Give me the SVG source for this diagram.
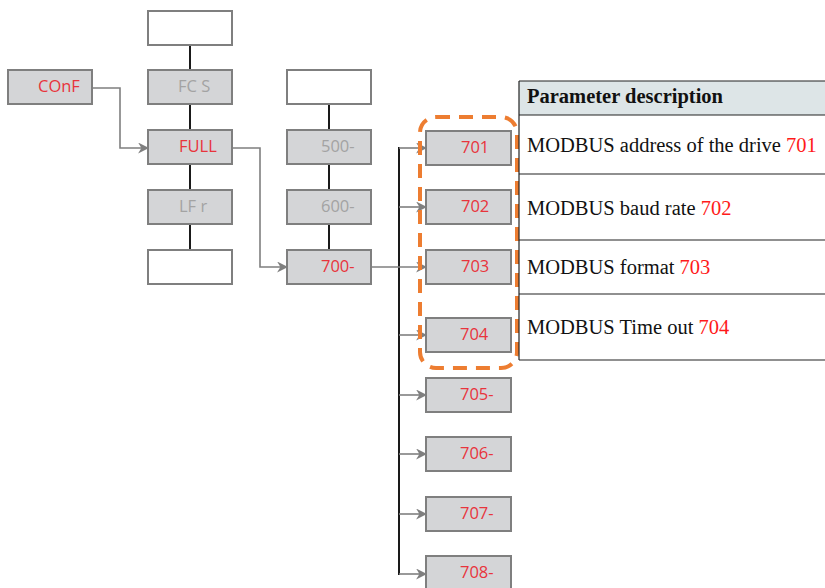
<svg xmlns="http://www.w3.org/2000/svg" width="825" height="588" viewBox="0 0 825 588">
<defs>
<marker id="arr" viewBox="0 0 10 10" refX="9" refY="5" markerWidth="11" markerHeight="11" markerUnits="userSpaceOnUse" orient="auto">
<path d="M0,0 L10,5 L0,10 L3,5 z" fill="#7f7f7f"/>
</marker>
<style>
.box{fill:#d4d5d7;stroke:#7f7f7f;stroke-width:2}
.wbox{fill:#ffffff;stroke:#7f7f7f;stroke-width:2}
.t{font-family:"Open Sans","Liberation Sans",sans-serif;font-size:16.5px}
.red{fill:#e8343c}
.gray{fill:#a3a3a3}
.arrow{fill:none;stroke:#7f7f7f;stroke-width:1.6;marker-end:url(#arr)}
.trunk{fill:none;stroke:#1a1a1a;stroke-width:2}
.tt{font-family:"Liberation Serif","Times New Roman",serif;font-size:20.5px;fill:#111}
.tr{fill:#ff1a1a}
.tl{stroke:#222;stroke-width:1.2}
</style>
</defs>
<g id="connectors">
<line class="trunk" x1="190" y1="45" x2="190" y2="250"/>
<line class="trunk" x1="329" y1="104" x2="329" y2="250"/>
<line class="trunk" x1="399" y1="147" x2="399" y2="575"/>
<path class="arrow" d="M92,88 H120 V148 H148"/>
<path class="arrow" d="M232,148 H260 V267 H287"/>
<path class="arrow" d="M371,267 H426"/>
<path class="arrow" d="M399,148 H426"/>
<path class="arrow" d="M399,207 H426"/>
<path class="arrow" d="M399,335 H426"/>
<path class="arrow" d="M399,395 H426"/>
<path class="arrow" d="M399,454 H426"/>
<path class="arrow" d="M399,514 H426"/>
<path class="arrow" d="M399,574 H426"/>
</g>
<g id="n-top"><rect class="wbox" x="148" y="11" width="84" height="34"/></g>
<g id="n-conf"><rect class="box" x="8" y="70" width="84" height="34"/><text class="t red" x="38" y="92">COnF</text></g>
<g id="n-fcs"><rect class="box" x="148" y="70" width="84" height="34"/><text class="t gray" x="178" y="92">FC S</text></g>
<g id="n-full"><rect class="box" x="148" y="130" width="84" height="34"/><text class="t red" x="179" y="152">FULL</text></g>
<g id="n-lfr"><rect class="box" x="148" y="190" width="84" height="34"/><text class="t gray" x="179" y="212">LF r</text></g>
<g id="n-bottom"><rect class="wbox" x="148" y="250" width="84" height="34"/></g>
<g id="n-top2"><rect class="wbox" x="287" y="70" width="84" height="34"/></g>
<g id="n-500"><rect class="box" x="287" y="130" width="84" height="34"/><text class="t gray" x="321" y="152">500-</text></g>
<g id="n-600"><rect class="box" x="287" y="190" width="84" height="34"/><text class="t gray" x="321" y="212">600-</text></g>
<g id="n-700"><rect class="box" x="287" y="250" width="84" height="34"/><text class="t red" x="321" y="272">700-</text></g>
<g id="n-701"><rect class="box" x="426" y="131" width="85" height="34"/><text class="t red" x="461" y="153">701</text></g>
<g id="n-702"><rect class="box" x="426" y="190" width="85" height="34"/><text class="t red" x="461" y="212">702</text></g>
<g id="n-703"><rect class="box" x="426" y="250" width="85" height="34"/><text class="t red" x="461" y="272">703</text></g>
<g id="n-704"><rect class="box" x="426" y="318" width="85" height="34"/><text class="t red" x="460" y="340">704</text></g>
<g id="n-705"><rect class="box" x="426" y="378" width="85" height="34"/><text class="t red" x="460" y="400">705-</text></g>
<g id="n-706"><rect class="box" x="426" y="437" width="85" height="34"/><text class="t red" x="460" y="459">706-</text></g>
<g id="n-707"><rect class="box" x="426" y="497" width="85" height="34"/><text class="t red" x="460" y="519">707-</text></g>
<g id="n-708"><rect class="box" x="426" y="556" width="85" height="34"/><text class="t red" x="460" y="578">708-</text></g>
<g id="highlight"><rect x="420" y="117" width="97" height="251" rx="16" fill="none" stroke="#ed7d31" stroke-width="4" stroke-dasharray="14 9"/></g>
<g id="table">
<rect x="519" y="81" width="310" height="34" fill="#dde5e7"/>
<line class="tl" x1="519" y1="81" x2="825" y2="81"/>
<line class="tl" x1="519" y1="115" x2="825" y2="115"/>
<line class="tl" x1="519" y1="174" x2="825" y2="174"/>
<line class="tl" x1="519" y1="240" x2="825" y2="240"/>
<line class="tl" x1="519" y1="294" x2="825" y2="294"/>
<line class="tl" x1="519" y1="360" x2="825" y2="360"/>
<line class="tl" x1="519" y1="81" x2="519" y2="360"/>
<text class="tt" x="527" y="103" font-weight="bold">Parameter description</text>
<text class="tt" x="527" y="152">MODBUS address of the drive <tspan class="tr">701</tspan></text>
<text class="tt" x="527" y="215">MODBUS baud rate <tspan class="tr">702</tspan></text>
<text class="tt" x="527" y="274">MODBUS format <tspan class="tr">703</tspan></text>
<text class="tt" x="527" y="334">MODBUS Time out <tspan class="tr">704</tspan></text>
</g>
</svg>
